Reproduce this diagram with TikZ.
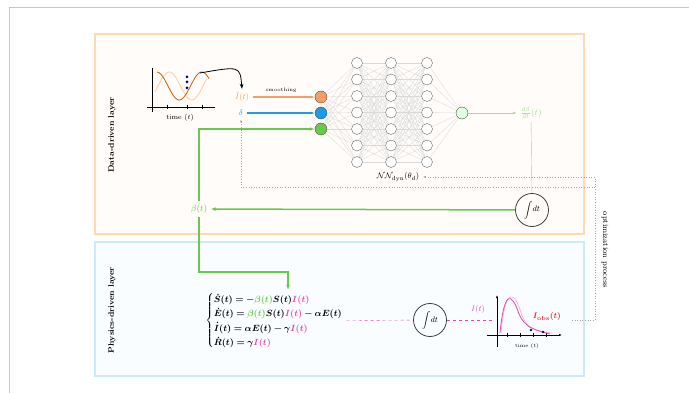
\documentclass[tikz,border=0pt]{standalone}
\usepackage{amsmath}
\usepackage{bm}
\usetikzlibrary{arrows.meta}
\definecolor{dgreen}{HTML}{6CC84A}
\definecolor{lgreen}{HTML}{A8DE90}
\definecolor{dorange}{HTML}{F0A065}
\definecolor{dblue}{HTML}{1E9BE8}
\definecolor{pinkI}{HTML}{E04AB4}
\definecolor{obsred}{HTML}{E8283C}
\newcommand{\betat}{\textcolor{dgreen}{\bm{\beta(t)}}}
\newcommand{\It}{\textcolor{pinkI}{\bm{I(t)}}}
\newcommand{\seireqs}{\renewcommand{\arraystretch}{1.3}$\left\{\begin{array}{@{}l@{}}
\bm{\dot{S}(t)=-}\betat\bm{S(t)}\It\\
\bm{\dot{E}(t)=}\betat\bm{S(t)}\It\bm{-\alpha E(t)}\\
\bm{\dot{I}(t)=\alpha E(t)-\gamma}\It\\
\bm{\dot{R}(t)=\gamma}\It
\end{array}\right.$}

\begin{document}
\begin{tikzpicture}[x=1pt, y=-1pt, font=\footnotesize,
  layerbox/.style={line width=1.2pt},
  inp/.style={circle, draw=black!70, minimum size=12pt, inner sep=0pt},
  hid/.style={circle, draw=black!60, fill=white, minimum size=11pt, inner sep=0pt},
  conn/.style={gray!30, line width=0.3pt},
  intnode/.style={circle, draw=black!75, thick, minimum size=33pt, inner sep=0pt},
  garrow/.style={-{Latex[length=5pt]}, line width=1.5pt, dgreen},
  optline/.style={gray!70, dotted, line width=0.6pt},
  layerlab/.style={font=\footnotesize\bfseries, rotate=90}]
\useasboundingbox (0,0) rectangle (689,393);
\draw[gray!45, line width=1pt] (9,393) -- (9,8) -- (689,8);
\draw[layerbox, draw=orange!30, fill=orange!2] (95,34) rectangle (584,234);
\draw[layerbox, draw=cyan!22, fill=cyan!2] (95,242) rectangle (584,376);
\node[layerlab] (datalab) at (112,135) {Data-driven layer};
\node[layerlab] (physlab) at (112,310) {Physics-driven layer};
% input data plot
\draw[thick] (152,68) -- (152,112);
\draw[thick] (147,107) -- (215,107);
\foreach \x in {167,187,202} \draw (\x,105) -- (\x,109);
\draw[orange!40, thick] plot[domain=155:207, samples=40, smooth] (\x, {86-14*sin(8*(\x-158))});
\draw[orange!75!black, thick] plot[domain=157:209, samples=40, smooth] (\x, {86+14*sin(8*(\x-168))});
\foreach \y in {77,82,88} \fill[blue!50!black] (187,\y) circle (1.5pt);
\node[font=\scriptsize] (time1) at (180,118) {time $(t)$};
\coordinate (plotout) at (200,73);
\node[dorange] (zt) at (242,97) {$\tilde{I}(t)$};
\draw[-{Stealth[length=5pt]}, thick] (plotout) .. controls (240,66) .. (zt.north);
\node[font=\tiny] (smooth) at (281,90) {smoothing};
\node[dblue] (delta) at (241,113) {$\delta$};
% network
\foreach \r/\y/\col in {1/97/dorange,2/113/dblue,3/129/dgreen}
  \node[inp, fill=\col] (in\r) at (321,\y) {};
\foreach \c/\x in {1/357,2/391,3/427}
  \foreach \r in {1,...,7}
    \node[hid] (h\c\r) at (\x,{63+(\r-1)*16.5}) {};
\node[inp, fill=green!12] (out) at (462,113) {};
\foreach \i in {1,2,3} \foreach \r in {1,...,7} \draw[conn] (in\i) -- (h1\r);
\foreach \a/\b in {1/2,2/3} \foreach \r in {1,...,7} \foreach \s in {1,...,7} \draw[conn] (h\a\r) -- (h\b\s);
\foreach \r in {1,...,7} \draw[conn] (h3\r) -- (out);
\node (nnlab) at (398,177) {$\mathcal{N}\mathcal{N}_{\mathrm{dyn}}(\theta_d)$};
\draw[-{Latex[length=4pt]}, line width=1.3pt, dorange] (zt) -- (in1);
\draw[-{Latex[length=4pt]}, line width=1.3pt, dblue] (delta) -- (in2);
\node[lgreen, font=\small] (dbeta) at (531,113) {$\frac{d\beta}{dt}(t)$};
\draw[-{Latex[length=4pt]}, lgreen, thick] (out) -- (dbeta);
\node[intnode] (intA) at (532,210) {$\displaystyle\int\!dt$};
\draw[gray!50] (dbeta) -- (intA);
\node[dgreen, font=\small] (beta) at (199,209) {$\beta(t)$};
\draw[garrow] (intA) -- (beta);
\draw[garrow] (beta) |- (in3);
\coordinate (eqin) at (288,290);
\draw[garrow] (beta) |- ([yshift=18pt]eqin) -- (eqin);
% physics layer
\node[anchor=west, font=\small] (eqs) at (202,321) {\seireqs};
\node[intnode] (intB) at (430,320) {$\displaystyle\int\!dt$};
\draw[pinkI, dashed] (eqs) -- (intB);
\node[pinkI] (Ilab) at (478,310) {$I(t)$};
\coordinate (pin) at (494,320);
\draw[pinkI, dashed] (intB) -- (pin);
\draw[thick, -{Latex[length=3pt]}] (497,347) -- (497,295);
\draw[thick, -{Latex[length=3pt]}] (487,335) -- (562,335);
\foreach \x in {507,520,533,546} \draw (\x,333) -- (\x,337);
\draw[pinkI!40, thick] (501,333) .. controls (505,288) and (514,288) .. (522,316) .. controls (528,330) and (537,331) .. (552,333);
\draw[pinkI, thick] (500,333) .. controls (504,292) and (511,290) .. (519,314) .. controls (525,328) and (535,330) .. (550,334);
\foreach \x/\y in {531/330,543/332} \fill[blue!50!black] (\x,\y) circle (1.3pt);
\node[obsred] (obs) at (547,317) {$\bm{I_{\mathrm{obs}}(t)}$};
\node[font=\tiny] (time2) at (527,346) {time $(t)$};
% optimization loop
\coordinate (obsout) at (572,320);
\coordinate (split) at (595,187);
\draw[optline, -{Latex[length=3pt]}] (obsout) -- (595,320) -- (595,177) -- (nnlab);
\draw[optline, -{Latex[length=3pt]}] (split) -| (delta);
\node[rotate=-90] (optlab) at (605,250) {optimization process};
\end{tikzpicture}
\end{document}
